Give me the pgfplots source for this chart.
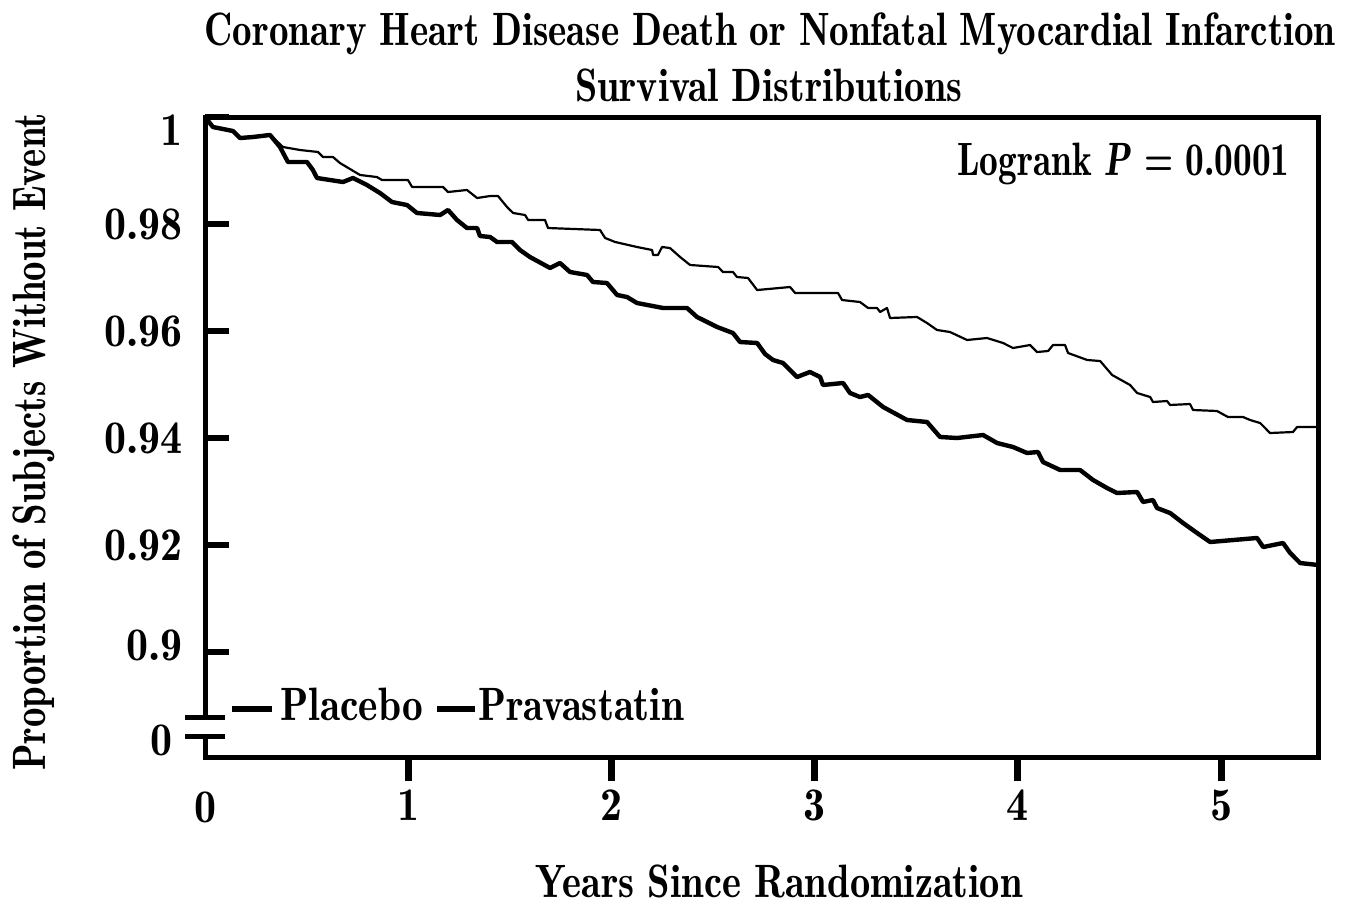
\documentclass[border=0pt]{standalone}
\usepackage{pgfplots}
\pgfplotsset{compat=1.18}
\usepackage{graphicx}
\newcommand\cs[2]{\scalebox{#1}[1]{#2}}
\newcommand\tk[1]{\scalebox{0.94}[1]{#1}}
\newcommand\bigf{\fontsize{23.4}{28}\fontseries{b}\selectfont}
\begin{document}
\begin{tikzpicture}
\useasboundingbox (0,0) rectangle (674pt,-452.5pt);
\begin{axis}[
  at={(102.5pt,-378.5pt)}, anchor=south west,
  scale only axis, width=556.5pt, height=320pt,
  xmin=0, xmax=5.477, ymin=0.88037, ymax=1,
  axis line style={line width=2.5pt},
  xtick pos=bottom, ytick pos=left,
  xtick align=outside, ytick align=inside,
  major tick length=12pt,
  xtick={1,2,3,4,5},
  xticklabels={\tk{1},\tk{2},\tk{3},\tk{4},\tk{5}},
  ytick={0.9,0.92,0.94,0.96,0.98,1},
  yticklabels={\raisebox{3.5pt}[\height][\depth]{\tk{0.9}},\tk{0.92},\tk{0.94},\tk{0.96},\tk{0.98},\raisebox{-6.5pt}[\height][\depth]{\tk{1}}},
  xtick style={line width=3.5pt, black},
  ytick style={line width=3pt, black},
  xticklabel style={font=\bigf, anchor=base, inner sep=0pt, yshift=-19.5pt},
  yticklabel style={font=\bigf, anchor=east, inner sep=0pt, xshift=-11pt},
  clip=true,
]
\addplot[black, line width=1.1pt, line join=round] coordinates {
(0,1)(0.039,0.99813)(0.138,0.99738)(0.172,0.99607)(0.236,0.99626)(0.320,0.99664)(0.384,0.99439)(0.468,0.99383)(0.556,0.99346)(0.581,0.99252)(0.630,0.99252)(0.664,0.99140)(0.763,0.98916)(0.846,0.98878)(0.871,0.98822)(0.999,0.98822)(1.019,0.98692)(1.171,0.98692)(1.196,0.98598)(1.289,0.98636)(1.339,0.98486)(1.403,0.98523)(1.442,0.98523)(1.486,0.98318)(1.516,0.98206)(1.575,0.98168)(1.590,0.98075)(1.673,0.98075)(1.688,0.97925)(1.944,0.97888)(1.969,0.97738)(2.018,0.97664)(2.126,0.97570)(2.200,0.97514)(2.205,0.97421)(2.229,0.97421)(2.249,0.97570)(2.288,0.97551)(2.338,0.97383)(2.387,0.97234)(2.525,0.97196)(2.549,0.97103)(2.598,0.97103)(2.618,0.97009)(2.672,0.96991)(2.717,0.96766)(2.879,0.96822)(2.904,0.96710)(3.115,0.96710)(3.135,0.96579)(3.223,0.96542)(3.263,0.96430)(3.307,0.96430)(3.322,0.96355)(3.356,0.96430)(3.371,0.96243)(3.504,0.96262)(3.553,0.96149)(3.602,0.96019)(3.666,0.95981)(3.750,0.95832)(3.848,0.95869)(3.927,0.95776)(3.976,0.95682)(4.060,0.95738)(4.094,0.95607)(4.149,0.95626)(4.173,0.95738)(4.232,0.95738)(4.247,0.95589)(4.341,0.95458)(4.405,0.95439)(4.464,0.95177)(4.552,0.94991)(4.587,0.94841)(4.651,0.94766)(4.665,0.94673)(4.734,0.94691)(4.749,0.94617)(4.847,0.94635)(4.862,0.94523)(4.980,0.94505)(5.034,0.94392)(5.108,0.94392)(5.143,0.94336)(5.192,0.94280)(5.241,0.94093)(5.354,0.94112)(5.374,0.94205)(5.477,0.94205)
};
\addplot[black, line width=2.2pt, line join=round] coordinates {
(0,1)(0.039,0.99813)(0.138,0.99738)(0.172,0.99607)(0.236,0.99626)(0.320,0.99664)(0.369,0.99439)(0.408,0.99159)(0.502,0.99159)(0.531,0.99009)(0.551,0.98860)(0.679,0.98785)(0.728,0.98860)(0.797,0.98729)(0.861,0.98579)(0.920,0.98411)(0.994,0.98355)(1.043,0.98206)(1.157,0.98168)(1.196,0.98262)(1.240,0.98075)(1.289,0.97925)(1.339,0.97925)(1.353,0.97776)(1.403,0.97757)(1.437,0.97664)(1.511,0.97664)(1.550,0.97514)(1.599,0.97383)(1.698,0.97178)(1.747,0.97271)(1.796,0.97103)(1.880,0.97047)(1.909,0.96916)(1.978,0.96897)(2.028,0.96673)(2.077,0.96635)(2.126,0.96523)(2.254,0.96430)(2.372,0.96430)(2.421,0.96262)(2.451,0.96206)(2.520,0.96075)(2.598,0.95962)(2.633,0.95794)(2.717,0.95776)(2.756,0.95570)(2.795,0.95458)(2.844,0.95402)(2.913,0.95140)(2.977,0.95234)(3.027,0.95140)(3.041,0.94991)(3.140,0.95028)(3.174,0.94841)(3.223,0.94766)(3.263,0.94804)(3.337,0.94579)(3.455,0.94336)(3.553,0.94299)(3.617,0.94019)(3.701,0.94000)(3.829,0.94056)(3.898,0.93906)(3.976,0.93832)(4.045,0.93720)(4.099,0.93738)(4.124,0.93551)(4.208,0.93402)(4.306,0.93402)(4.370,0.93215)(4.439,0.93065)(4.488,0.92972)(4.587,0.92991)(4.616,0.92804)(4.665,0.92841)(4.685,0.92691)(4.749,0.92598)(4.813,0.92411)(4.882,0.92224)(4.946,0.92056)(5.177,0.92131)(5.207,0.91962)(5.305,0.92037)(5.340,0.91850)(5.389,0.91663)(5.477,0.91626)
};
\end{axis}
\begin{scope}[x=0.5pt, y=-0.5pt]
  % axis break
  \fill[white] (199,719.5) rectangle (211,733.5);
  \draw[line width=2.5pt] (185,717) -- (225,717);
  \draw[line width=2.5pt] (185,736) -- (225,736);
  \node[font=\bigf, anchor=base east, inner sep=0pt] at (173,755) {\tk{0}};
  \node[font=\bigf, anchor=base, inner sep=0pt] at (205,822) {\tk{0}};
  % titles
  \node[font=\bigf, anchor=base, inner sep=0pt] at (770,45) {\cs{0.835}{Coronary Heart Disease Death or Nonfatal Myocardial Infarction}};
  \node[font=\bigf, anchor=base, inner sep=0pt] at (769,101) {\cs{0.855}{Survival Distributions}};
  \node[font=\bigf, anchor=base east, inner sep=0pt] at (1290,175) {\cs{0.80}{Logrank \textit{P} = 0.0001}};
  \node[font=\bigf, anchor=base, inner sep=0pt] at (779,897) {\cs{0.865}{Years Since Randomization}};
  \node[font=\bigf, anchor=base, inner sep=0pt, rotate=90] at (45,442) {\cs{0.83}{Proportion of Subjects Without Event}};
  % legend
  \draw[line width=2.6pt] (232,709) -- (272,709);
  \node[font=\bigf, anchor=base west, inner sep=0pt] at (280,720) {\cs{0.885}{Placebo}};
  \draw[line width=2.8pt] (437,709) -- (475,709);
  \node[font=\bigf, anchor=base west, inner sep=0pt] at (478,720) {\cs{0.875}{Pravastatin}};
\end{scope}
\end{tikzpicture}
\end{document}
